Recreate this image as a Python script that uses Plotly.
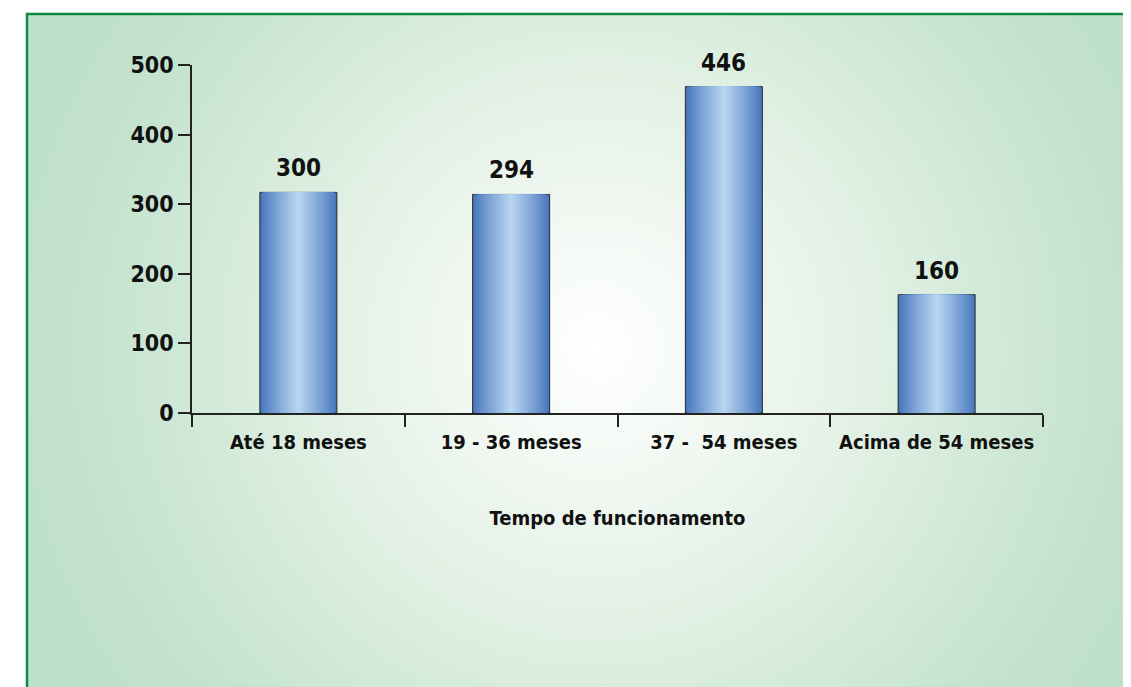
import base64
import plotly.graph_objects as go

# chart data
categories = ["Até 18 meses", "19 - 36 meses", "37 -  54 meses", "Acima de 54 meses"]
bar_heights = [317, 314, 469, 170]
bar_labels = ["300", "294", "446", "160"]
y_ticks = [0, 100, 200, 300, 400, 500]

# the page puts the figure 8px in from the top-left corner
PAGE_W, PAGE_H, BODY = 1131, 687, 8
W, H = PAGE_W - BODY, PAGE_H - BODY
margin = dict(l=192 - BODY, r=88, t=65 - BODY, b=274)
plot_w = W - margin["l"] - margin["r"]
plot_h = H - margin["t"] - margin["b"]

FONT = "DejaVu Sans Condensed, Liberation Sans Narrow, DejaVu Sans, sans-serif"
INK = "#111111"

# background: white page, green framed panel with a radial light spot
svg_bg = f"""<svg xmlns="http://www.w3.org/2000/svg" width="{W}" height="{H}" viewBox="0 0 {W} {H}" preserveAspectRatio="none">
<defs>
<radialGradient id="g" cx="{597 - BODY}" cy="{347 - BODY}" r="600" gradientUnits="userSpaceOnUse">
<stop offset="0" stop-color="#ffffff"/>
<stop offset="0.45" stop-color="#e3f1e5"/>
<stop offset="0.85" stop-color="#c4e3cd"/>
<stop offset="1" stop-color="#bfe0c8"/>
</radialGradient>
</defs>
<rect x="0" y="0" width="{W}" height="{H}" fill="#ffffff"/>
<rect x="{27 - BODY}" y="{14 - BODY}" width="{W + 10}" height="{H + 10}" fill="url(#g)" stroke="#0f8a45" stroke-width="2.5"/>
</svg>"""
svg_src = "data:image/svg+xml;base64," + base64.b64encode(svg_bg.encode()).decode()


def blend(c1, c2, t):
    a = [int(c1[i:i + 2], 16) for i in (1, 3, 5)]
    b = [int(c2[i:i + 2], 16) for i in (1, 3, 5)]
    return "#" + "".join(f"{round(x + (y - x) * t):02x}" for x, y in zip(a, b))


fig = go.Figure()

# cylinder-like shading: stacked overlay bars, narrower ones lighter
full_width = 0.362
edge_col, mid_col = "#4676bc", "#b9d6f1"
n_steps = 20
for k in range(n_steps):
    t = k / (n_steps - 1)
    fig.add_trace(go.Bar(
        x=categories,
        y=bar_heights,
        width=full_width * (1 - 0.97 * t),
        marker_color=blend(edge_col, mid_col, t ** 0.9),
        marker_line_width=1 if k == 0 else 0,
        marker_line_color="#2b2b2b",
        hoverinfo="skip",
        showlegend=False,
    ))

for cat, h, lab in zip(categories, bar_heights, bar_labels):
    fig.add_annotation(x=cat, y=h, text=lab, showarrow=False,
                       yanchor="middle", yshift=24,
                       font=dict(family=FONT, size=24, color=INK, weight="bold"))

fig.add_layout_image(dict(
    source=svg_src, xref="paper", yref="paper",
    x=-margin["l"] / plot_w, y=1 + margin["t"] / plot_h,
    sizex=W / plot_w, sizey=H / plot_h,
    xanchor="left", yanchor="top", sizing="stretch", layer="below"))

fig.update_layout(
    width=W, height=H,
    margin=margin,
    barmode="overlay",
    paper_bgcolor="white",
    plot_bgcolor="rgba(0,0,0,0)",
    font=dict(family=FONT, color=INK),
    showlegend=False,
)

fig.update_xaxes(
    showline=True, linecolor="#222222", linewidth=1.5,
    ticks="outside", tickson="boundaries", ticklen=12, tickcolor="#222222", tickwidth=1.5,
    showgrid=False, zeroline=False, tickangle=0, ticklabelstandoff=10,
    tickfont=dict(family=FONT, size=20, color=INK, weight="bold"),
    title=dict(text="Tempo de funcionamento", standoff=58,
               font=dict(family=FONT, size=20, color=INK, weight="bold")),
)
fig.update_yaxes(
    range=[0, 500], tickvals=y_ticks,
    showline=True, linecolor="#222222", linewidth=1.5,
    ticks="outside", ticklen=12, tickcolor="#222222", tickwidth=1.5,
    showgrid=False, zeroline=False,
    tickfont=dict(family=FONT, size=23, color=INK, weight="bold"),
)

fig.write_html("out.html")
